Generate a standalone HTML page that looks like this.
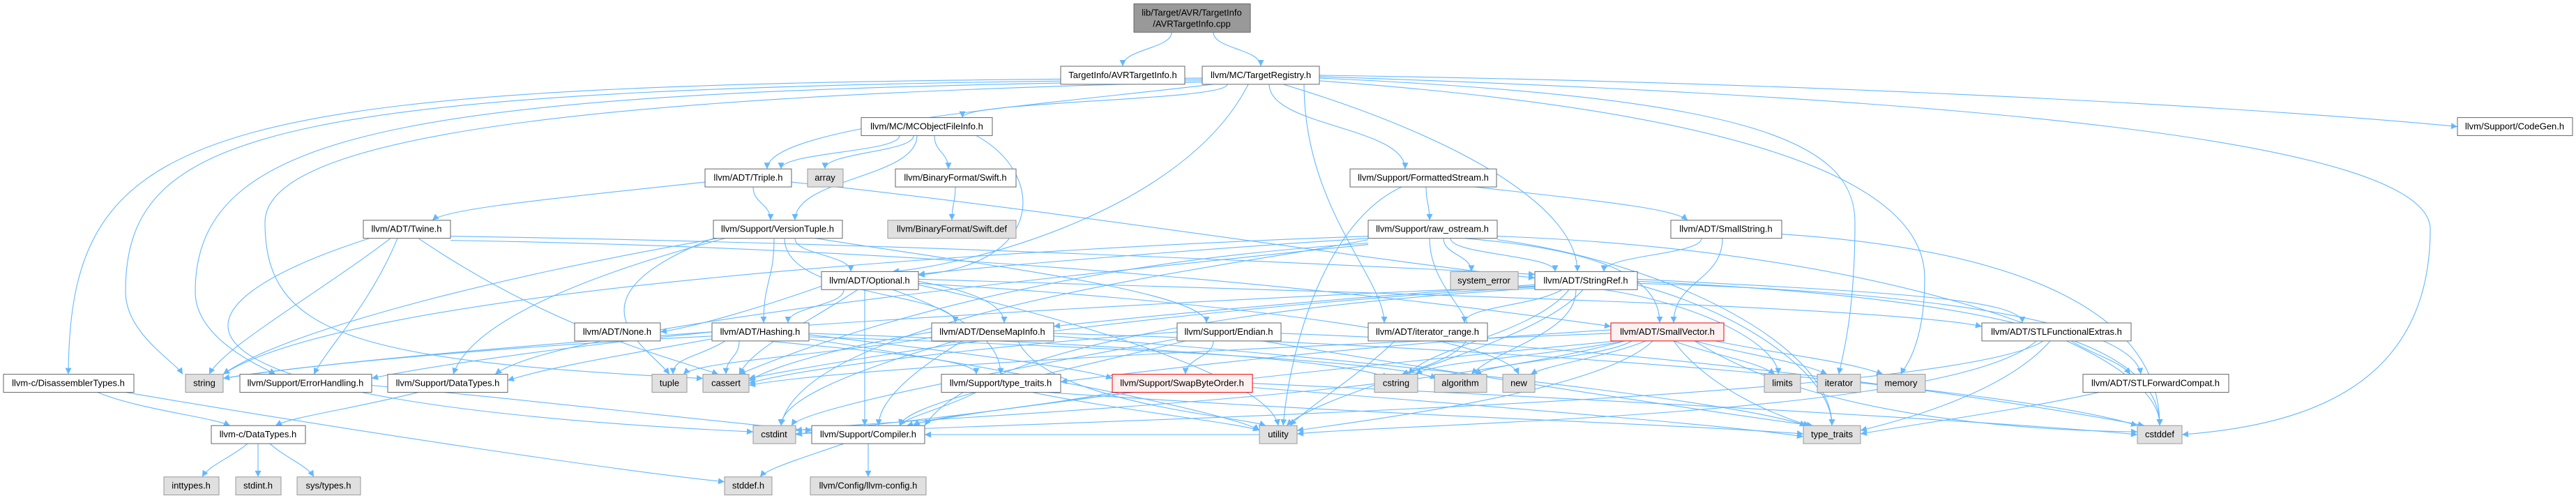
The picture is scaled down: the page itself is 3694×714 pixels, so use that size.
<!DOCTYPE html>
<html><head><meta charset="utf-8"><style>
html,body{margin:0;padding:0;background:#fff;width:3694px;height:714px;overflow:hidden}
svg text{font-family:"Liberation Sans",sans-serif;font-size:13px;fill:#000;text-anchor:middle}
.e{fill:none;stroke:#63b8ff;stroke-width:1.1;marker-end:url(#ar)}
.n{fill:#fff;stroke:#666}
.g{fill:#e0e0e0;stroke:#999}
.r{fill:#fff0f0;stroke:#e00}
</style></head><body>
<svg width="3694" height="714" viewBox="0 0 3694 714" xmlns="http://www.w3.org/2000/svg">
<defs><marker id="ar" viewBox="0 0 10 10" refX="10" refY="5" markerWidth="11" markerHeight="9" orient="auto" markerUnits="userSpaceOnUse"><path d="M0,0L10,5L0,10z" fill="#63b8ff"/></marker></defs>
<g transform="matrix(1 0 0 0.9946 0 0.5)">
<g>
<path class="e" d="M1680,46 C1680,70 1610,70 1610,95"/>
<path class="e" d="M1740,46 C1740,70 1808,70 1808,95"/>
<path class="e" d="M1760,121 C1760,145 1380,145 1380,169"/>
<path class="e" d="M1892,108 C2700,120 3300,160 3524,182"/>
<path class="e" d="M1740,121 C1500,150 1100,180 1100,243"/>
<path class="e" d="M1790,121 C1700,300 1400,380 1280,391"/>
<path class="e" d="M1820,121 C1820,182 2015,182 2015,243"/>
<path class="e" d="M1840,121 C2100,200 2262,300 2262,391"/>
<path class="e" d="M1870,121 C1870,300 1985,400 1985,465"/>
<path class="e" d="M1724,112 C300,120 100,160 98,539"/>
<path class="e" d="M1724,114 C400,125 180,180 180,420 C180,480 250,520 262,539"/>
<path class="e" d="M1724,116 C600,130 280,180 280,420 C280,490 380,530 395,539"/>
<path class="e" d="M1724,118 C800,140 380,200 380,320 C380,480 500,520 1008,545"/>
<path class="e" d="M1892,112 C2500,140 2660,200 2660,320 C2660,460 2640,520 2637,539"/>
<path class="e" d="M1892,116 C2500,160 2760,260 2760,400 C2760,500 2730,530 2726,539"/>
<path class="e" d="M1892,110 C2800,140 3485,200 3485,330 C3485,560 3300,613 3129,626"/>
<path class="e" d="M1290,195 C1290,219 1120,219 1120,243"/>
<path class="e" d="M1310,195 C1310,219 1183,219 1183,243"/>
<path class="e" d="M1315,195 C1315,256 1140,256 1140,317"/>
<path class="e" d="M1340,195 C1340,219 1360,219 1360,243"/>
<path class="e" d="M1400,195 C1500,250 1500,380 1317,396"/>
<path class="e" d="M1370,269 C1370,293 1365,293 1365,317"/>
<path class="e" d="M1011,262 C800,285 640,300 620,317"/>
<path class="e" d="M1080,269 C1080,293 1105,293 1105,317"/>
<path class="e" d="M1135,262 C1500,300 2000,380 2201,400"/>
<path class="e" d="M560,343 C460,420 320,500 300,539"/>
<path class="e" d="M570,343 C530,440 470,500 450,539"/>
<path class="e" d="M600,343 C800,480 980,520 1030,539"/>
<path class="e" d="M530,343 C200,450 200,580 1080,622"/>
<path class="e" d="M646,346 C1500,360 2100,440 2310,470"/>
<path class="e" d="M646,340 C1300,350 1900,380 2201,395"/>
<path class="e" d="M1140,343 C1140,367 1220,367 1220,391"/>
<path class="e" d="M1110,343 C1110,404 1095,404 1095,465"/>
<path class="e" d="M1125,343 C1125,430 1370,420 1370,465"/>
<path class="e" d="M1170,343 C1400,380 1730,420 1730,465"/>
<path class="e" d="M1030,343 C700,400 400,480 320,539"/>
<path class="e" d="M1040,343 C900,380 680,450 650,539"/>
<path class="e" d="M1023,343 C800,430 930,500 960,539"/>
<path class="e" d="M2080,343 C2080,367 2230,367 2230,391"/>
<path class="e" d="M2100,343 C2300,360 2380,400 2380,465"/>
<path class="e" d="M2070,343 C2070,367 2110,367 2110,391"/>
<path class="e" d="M1962,350 C1500,380 1200,480 1060,539"/>
<path class="e" d="M2147,340 C2700,360 3100,500 3097,613"/>
<path class="e" d="M1962,345 C1800,380 1150,450 1120,613"/>
<path class="e" d="M1962,340 C1400,360 500,420 320,539"/>
<path class="e" d="M2147,345 C2400,380 2627,500 2627,613"/>
<path class="e" d="M1962,343 C1700,360 1400,385 1317,395"/>
<path class="e" d="M1962,352 C1500,400 800,470 710,539"/>
<path class="e" d="M2050,343 C2050,450 2200,480 2010,539"/>
<path class="e" d="M2045,269 C2045,293 2050,293 2050,317"/>
<path class="e" d="M2115,269 C2300,290 2400,300 2420,317"/>
<path class="e" d="M2010,269 C1900,320 1850,500 1840,613"/>
<path class="e" d="M2440,343 C2440,367 2300,367 2300,391"/>
<path class="e" d="M2470,343 C2470,404 2400,404 2400,465"/>
<path class="e" d="M2555,337 C2900,360 3097,450 3097,613"/>
<path class="e" d="M1178,412 C1100,440 1000,470 947,478"/>
<path class="e" d="M1210,417 C1210,441 1130,441 1130,465"/>
<path class="e" d="M1317,405 C1400,420 1440,440 1440,465"/>
<path class="e" d="M1280,417 C1400,460 1435,500 1435,539"/>
<path class="e" d="M1230,417 C1150,470 1080,500 1060,539"/>
<path class="e" d="M1240,417 C1240,515 1240,515 1240,613"/>
<path class="e" d="M1317,410 C1500,450 1820,540 1833,613"/>
<path class="e" d="M1317,408 C1700,430 2150,480 2178,539"/>
<path class="e" d="M1317,402 C1900,420 2700,440 2842,470"/>
<path class="e" d="M2240,417 C2200,441 2100,441 2100,465"/>
<path class="e" d="M2348,402 C2700,420 2900,430 2900,465"/>
<path class="e" d="M2201,410 C1900,430 1600,460 1511,470"/>
<path class="e" d="M2201,415 C1800,440 1400,500 1326,613"/>
<path class="e" d="M2260,417 C2260,480 2150,500 2110,539"/>
<path class="e" d="M2250,417 C2200,480 2050,500 2020,539"/>
<path class="e" d="M2300,417 C2450,440 2550,500 2550,539"/>
<path class="e" d="M2201,413 C1600,450 1200,520 1074,545"/>
<path class="e" d="M2348,405 C2900,430 3097,500 3097,613"/>
<path class="e" d="M2348,410 C2500,450 2627,540 2627,613"/>
<path class="e" d="M2270,417 C2200,500 1900,560 1845,613"/>
<path class="e" d="M2201,412 C1500,440 600,500 320,545"/>
<path class="e" d="M2348,408 C2800,420 3060,470 3070,539"/>
<path class="e" d="M1021,478 C800,500 600,530 533,545"/>
<path class="e" d="M1060,491 C1060,515 1041,515 1041,539"/>
<path class="e" d="M1040,491 C1000,515 965,515 965,539"/>
<path class="e" d="M1100,491 C1300,510 1400,520 1400,539"/>
<path class="e" d="M1160,482 C1400,510 1550,530 1595,545"/>
<path class="e" d="M1160,485 C1600,500 2000,520 2060,545"/>
<path class="e" d="M1160,480 C1600,495 1950,520 1990,545"/>
<path class="e" d="M1021,484 C700,500 400,530 320,545"/>
<path class="e" d="M1021,488 C900,510 780,530 728,548"/>
<path class="e" d="M1160,488 C1500,540 1780,600 1806,620"/>
<path class="e" d="M1336,478 C1200,500 1100,530 1074,549"/>
<path class="e" d="M1370,491 C1200,540 1120,580 1120,613"/>
<path class="e" d="M1380,491 C1300,540 1260,580 1260,613"/>
<path class="e" d="M1460,491 C1500,580 1780,600 1815,613"/>
<path class="e" d="M1511,480 C2200,500 2900,560 3065,613"/>
<path class="e" d="M1511,484 C2000,520 2500,580 2590,613"/>
<path class="e" d="M1340,485 C1200,510 1000,520 980,539"/>
<path class="e" d="M1740,491 C1740,515 1700,515 1700,539"/>
<path class="e" d="M1700,491 C1500,540 1300,580 1290,613"/>
<path class="e" d="M1688,478 C1400,500 1150,530 1074,552"/>
<path class="e" d="M1688,488 C1400,540 1150,590 1135,613"/>
<path class="e" d="M1837,480 C2400,500 2900,580 3075,613"/>
<path class="e" d="M1810,491 C2100,540 2500,600 2600,613"/>
<path class="e" d="M2000,491 C1950,540 1870,590 1850,613"/>
<path class="e" d="M2320,491 C1800,540 1400,590 1300,613"/>
<path class="e" d="M2310,475 C1900,500 1600,540 1521,550"/>
<path class="e" d="M2340,491 C2300,515 2150,520 2115,539"/>
<path class="e" d="M2330,491 C2200,515 2060,520 2030,539"/>
<path class="e" d="M2360,491 C2300,515 2220,525 2195,539"/>
<path class="e" d="M2310,480 C1800,500 1200,530 1074,555"/>
<path class="e" d="M2400,491 C2450,510 2520,520 2545,539"/>
<path class="e" d="M2430,491 C2500,510 2580,520 2620,539"/>
<path class="e" d="M2460,491 C2550,510 2650,520 2700,539"/>
<path class="e" d="M2370,491 C2300,560 2000,600 1860,620"/>
<path class="e" d="M2400,491 C2450,560 2550,600 2595,613"/>
<path class="e" d="M2430,491 C2600,600 2900,620 3065,622"/>
<path class="e" d="M2330,491 C2000,580 1300,600 1141,620"/>
<path class="e" d="M2970,491 C3000,510 3040,520 3055,539"/>
<path class="e" d="M2930,491 C2800,580 1400,610 1141,625"/>
<path class="e" d="M2940,491 C2880,560 2750,600 2668,620"/>
<path class="e" d="M2920,491 C2800,600 2000,610 1860,625"/>
<path class="e" d="M3010,565 C2900,590 2750,610 2668,625"/>
<path class="e" d="M533,555 C800,580 1050,610 1164,620"/>
<path class="e" d="M600,565 C500,590 420,600 395,613"/>
<path class="e" d="M140,565 C200,590 300,600 330,613"/>
<path class="e" d="M180,565 C500,620 900,680 1039,694"/>
<path class="e" d="M355,639 C330,660 300,670 290,687"/>
<path class="e" d="M370,639 C370,663 370,663 370,687"/>
<path class="e" d="M387,639 C410,660 440,670 450,687"/>
<path class="e" d="M1400,565 C1350,590 1300,600 1290,613"/>
<path class="e" d="M1500,565 C2000,600 2400,610 2586,625"/>
<path class="e" d="M1480,565 C1600,590 1780,610 1806,620"/>
<path class="e" d="M1620,565 C1450,590 1330,600 1310,613"/>
<path class="e" d="M1796,552 C2400,580 2900,610 3065,626"/>
<path class="e" d="M1796,558 C2200,590 2500,615 2586,629"/>
<path class="e" d="M1600,565 C1400,600 1200,615 1141,626"/>
<path class="e" d="M1245,639 C1245,663 1245,663 1245,687"/>
<path class="e" d="M1210,639 C1150,660 1100,675 1090,687"/>
<path class="e" d="M1806,626 C1600,626 1450,626 1326,626"/>
</g>
<g>
<rect x="1626" y="5" width="167" height="41" fill="#999" stroke="#666"/>
<text x="1709" y="22">lib/Target/AVR/TargetInfo</text><text x="1709" y="38">/AVRTargetInfo.cpp</text>
<rect class="n" x="1521" y="95" width="178" height="26"/><text x="1610" y="112">TargetInfo/AVRTargetInfo.h</text>
<rect class="n" x="1724" y="95" width="168" height="26"/><text x="1808" y="112">llvm/MC/TargetRegistry.h</text>
<rect class="n" x="1235" y="169" width="188" height="26"/><text x="1329" y="186">llvm/MC/MCObjectFileInfo.h</text>
<rect class="n" x="3524" y="169" width="165" height="26"/><text x="3606" y="186">llvm/Support/CodeGen.h</text>
<rect class="n" x="1011" y="243" width="124" height="26"/><text x="1073" y="260">llvm/ADT/Triple.h</text>
<rect class="g" x="1158" y="243" width="51" height="26"/><text x="1183" y="260">array</text>
<rect class="n" x="1284" y="243" width="173" height="26"/><text x="1370" y="260">llvm/BinaryFormat/Swift.h</text>
<rect class="n" x="1936" y="243" width="210" height="26"/><text x="2041" y="260">llvm/Support/FormattedStream.h</text>
<rect class="n" x="521" y="317" width="125" height="26"/><text x="583" y="334">llvm/ADT/Twine.h</text>
<rect class="n" x="1023" y="317" width="185" height="26"/><text x="1115" y="334">llvm/Support/VersionTuple.h</text>
<rect class="g" x="1273" y="317" width="184" height="26"/><text x="1365" y="334">llvm/BinaryFormat/Swift.def</text>
<rect class="n" x="1962" y="317" width="185" height="26"/><text x="2054" y="334">llvm/Support/raw_ostream.h</text>
<rect class="n" x="2396" y="317" width="159" height="26"/><text x="2475" y="334">llvm/ADT/SmallString.h</text>
<rect class="n" x="1178" y="391" width="139" height="26"/><text x="1247" y="408">llvm/ADT/Optional.h</text>
<rect class="g" x="2080" y="391" width="97" height="26"/><text x="2128" y="408">system_error</text>
<rect class="n" x="2201" y="391" width="147" height="26"/><text x="2274" y="408">llvm/ADT/StringRef.h</text>
<rect class="n" x="824" y="465" width="123" height="26"/><text x="885" y="482">llvm/ADT/None.h</text>
<rect class="n" x="1021" y="465" width="139" height="26"/><text x="1090" y="482">llvm/ADT/Hashing.h</text>
<rect class="n" x="1336" y="465" width="175" height="26"/><text x="1423" y="482">llvm/ADT/DenseMapInfo.h</text>
<rect class="n" x="1688" y="465" width="149" height="26"/><text x="1762" y="482">llvm/Support/Endian.h</text>
<rect class="n" x="1962" y="465" width="171" height="26"/><text x="2047" y="482">llvm/ADT/iterator_range.h</text>
<rect class="r" x="2310" y="465" width="162" height="26"/><text x="2391" y="482">llvm/ADT/SmallVector.h</text>
<rect class="n" x="2842" y="465" width="214" height="26"/><text x="2949" y="482">llvm/ADT/STLFunctionalExtras.h</text>
<rect class="n" x="5" y="539" width="187" height="26"/><text x="98" y="556">llvm-c/DisassemblerTypes.h</text>
<rect class="g" x="266" y="539" width="54" height="26"/><text x="293" y="556">string</text>
<rect class="n" x="344" y="539" width="189" height="26"/><text x="438" y="556">llvm/Support/ErrorHandling.h</text>
<rect class="n" x="556" y="539" width="172" height="26"/><text x="642" y="556">llvm/Support/DataTypes.h</text>
<rect class="g" x="935" y="539" width="50" height="26"/><text x="960" y="556">tuple</text>
<rect class="g" x="1008" y="539" width="66" height="26"/><text x="1041" y="556">cassert</text>
<rect class="n" x="1350" y="539" width="171" height="26"/><text x="1435" y="556">llvm/Support/type_traits.h</text>
<rect class="r" x="1595" y="539" width="201" height="26"/><text x="1695" y="556">llvm/Support/SwapByteOrder.h</text>
<rect class="g" x="1971" y="539" width="62" height="26"/><text x="2002" y="556">cstring</text>
<rect class="g" x="2057" y="539" width="75" height="26"/><text x="2094" y="556">algorithm</text>
<rect class="g" x="2155" y="539" width="46" height="26"/><text x="2178" y="556">new</text>
<rect class="g" x="2530" y="539" width="52" height="26"/><text x="2556" y="556">limits</text>
<rect class="g" x="2606" y="539" width="62" height="26"/><text x="2637" y="556">iterator</text>
<rect class="g" x="2692" y="539" width="69" height="26"/><text x="2726" y="556">memory</text>
<rect class="n" x="2987" y="539" width="209" height="26"/><text x="3091" y="556">llvm/ADT/STLForwardCompat.h</text>
<rect class="n" x="303" y="613" width="135" height="26"/><text x="370" y="630">llvm-c/DataTypes.h</text>
<rect class="g" x="1080" y="613" width="61" height="26"/><text x="1110" y="630">cstdint</text>
<rect class="n" x="1164" y="613" width="162" height="26"/><text x="1245" y="630">llvm/Support/Compiler.h</text>
<rect class="g" x="1806" y="613" width="54" height="26"/><text x="1833" y="630">utility</text>
<rect class="g" x="2586" y="613" width="82" height="26"/><text x="2627" y="630">type_traits</text>
<rect class="g" x="3065" y="613" width="64" height="26"/><text x="3097" y="630">cstddef</text>
<rect class="g" x="235" y="687" width="79" height="26"/><text x="274" y="704">inttypes.h</text>
<rect class="g" x="338" y="687" width="65" height="26"/><text x="370" y="704">stdint.h</text>
<rect class="g" x="426" y="687" width="91" height="26"/><text x="471" y="704">sys/types.h</text>
<rect class="g" x="1039" y="687" width="68" height="26"/><text x="1073" y="704">stddef.h</text>
<rect class="g" x="1162" y="687" width="166" height="26"/><text x="1245" y="704">llvm/Config/llvm-config.h</text>
</g>
</g>
</svg>
</body></html>
